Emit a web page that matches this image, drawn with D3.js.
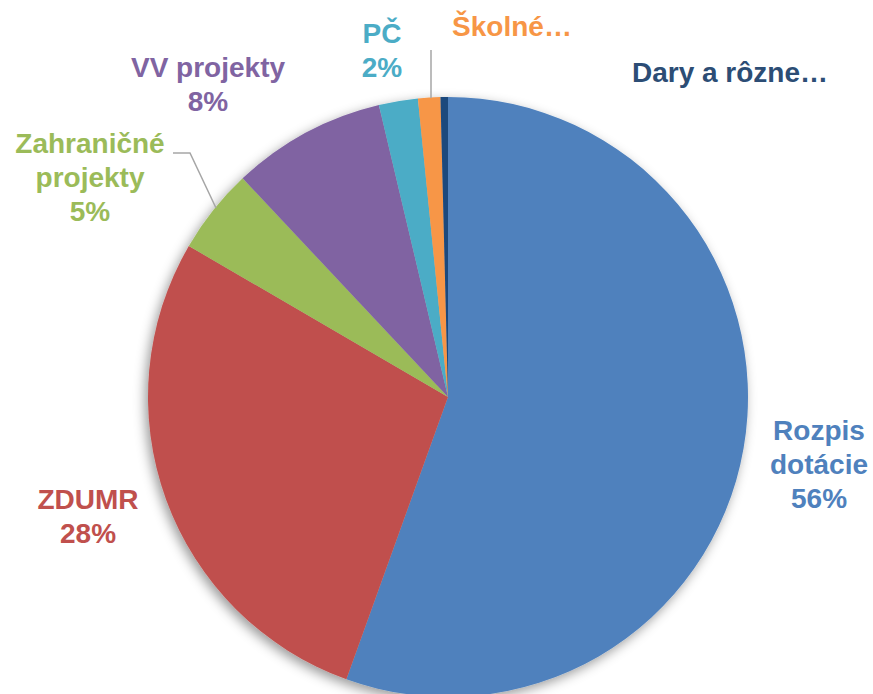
<!DOCTYPE html>
<html>
<head>
<meta charset="utf-8">
<script src="https://cdn.jsdelivr.net/npm/d3@7"></script>
<style>
body { margin: 0; background: #fff; }
text { font-family: "Liberation Sans", Arial, sans-serif; font-weight: bold; font-size: 28px; }
</style>
</head>
<body>
<svg></svg>
<script>
var categories = ["Rozpis dotácie", "ZDUMR", "Zahraničné projekty", "VV projekty", "PČ", "Školné…", "Dary a rôzne…"]
var values = [55.5, 27.9, 4.6, 8.3, 2.1, 1.2, 0.4]
var percentLabels = ["56%", "28%", "5%", "8%", "2%", "", ""]
var colors = ["#4F81BD", "#C0504D", "#9BBB59", "#8064A2", "#4BACC6", "#F79646", "#1F497D"]
var labelColors = ["#4F81BD", "#C0504D", "#9BBB59", "#8064A2", "#4BACC6", "#F79646", "#2C4D75"]

// label text lines, positioned by hand like the original
var labelLines = [
    ["Rozpis", "dotácie", "56%"],
    ["ZDUMR", "28%"],
    ["Zahraničné", "projekty", "5%"],
    ["VV projekty", "8%"],
    ["PČ", "2%"],
    ["Školné…"],
    ["Dary a rôzne…"]
]
var labelPos = [[819, 440], [88, 509], [90, 153], [208, 77], [382, 43], [512, 36], [730, 82]]

var screen = {width:873,height:694}
var center = {x:448,y:397}
var radius = 300

var svg = d3.select("svg")
    .attr("width",screen.width)
    .attr("height",screen.height)

var defs = svg.append("defs")
var filter = defs.append("filter")
    .attr("id","shadow")
    .attr("x","-20%").attr("y","-20%")
    .attr("width","140%").attr("height","140%")
filter.append("feDropShadow")
    .attr("dx",-3)
    .attr("dy",4)
    .attr("stdDeviation",6)
    .attr("flood-color","#000")
    .attr("flood-opacity",0.4)

var pie = d3.pie().sort(null).value(function(d){ return d })
var arc = d3.arc().innerRadius(0).outerRadius(radius)

var g = svg.append("g")
    .attr("transform","translate("+center.x+","+center.y+")")

g.append("g")
    .attr("filter","url(#shadow)")
    .selectAll("path")
    .data(pie(values))
    .enter()
    .append("path")
    .attr("d",arc)
    .attr("fill",function(d,i){ return colors[i] })

// leader lines
var lines = [
    [[173,153],[190,153],[216,208]],
    [[431,50],[431,98]]
]
svg.selectAll(".leader")
    .data(lines)
    .enter()
    .append("path")
    .attr("class","leader")
    .attr("d",d3.line())
    .attr("fill","none")
    .attr("stroke","#A6A6A6")
    .attr("stroke-width",1.5)

var labels = svg.selectAll(".label")
    .data(labelLines)
    .enter()
    .append("text")
    .attr("class","label")
    .attr("text-anchor","middle")
    .attr("fill",function(d,i){ return labelColors[i] })
    .attr("transform",function(d,i){ return "translate("+labelPos[i][0]+","+labelPos[i][1]+")" })

labels.selectAll("tspan")
    .data(function(d){ return d })
    .enter()
    .append("tspan")
    .attr("x",0)
    .attr("y",function(d,j){ return j*34 })
    .text(function(d){ return d })
</script>
</body>
</html>
